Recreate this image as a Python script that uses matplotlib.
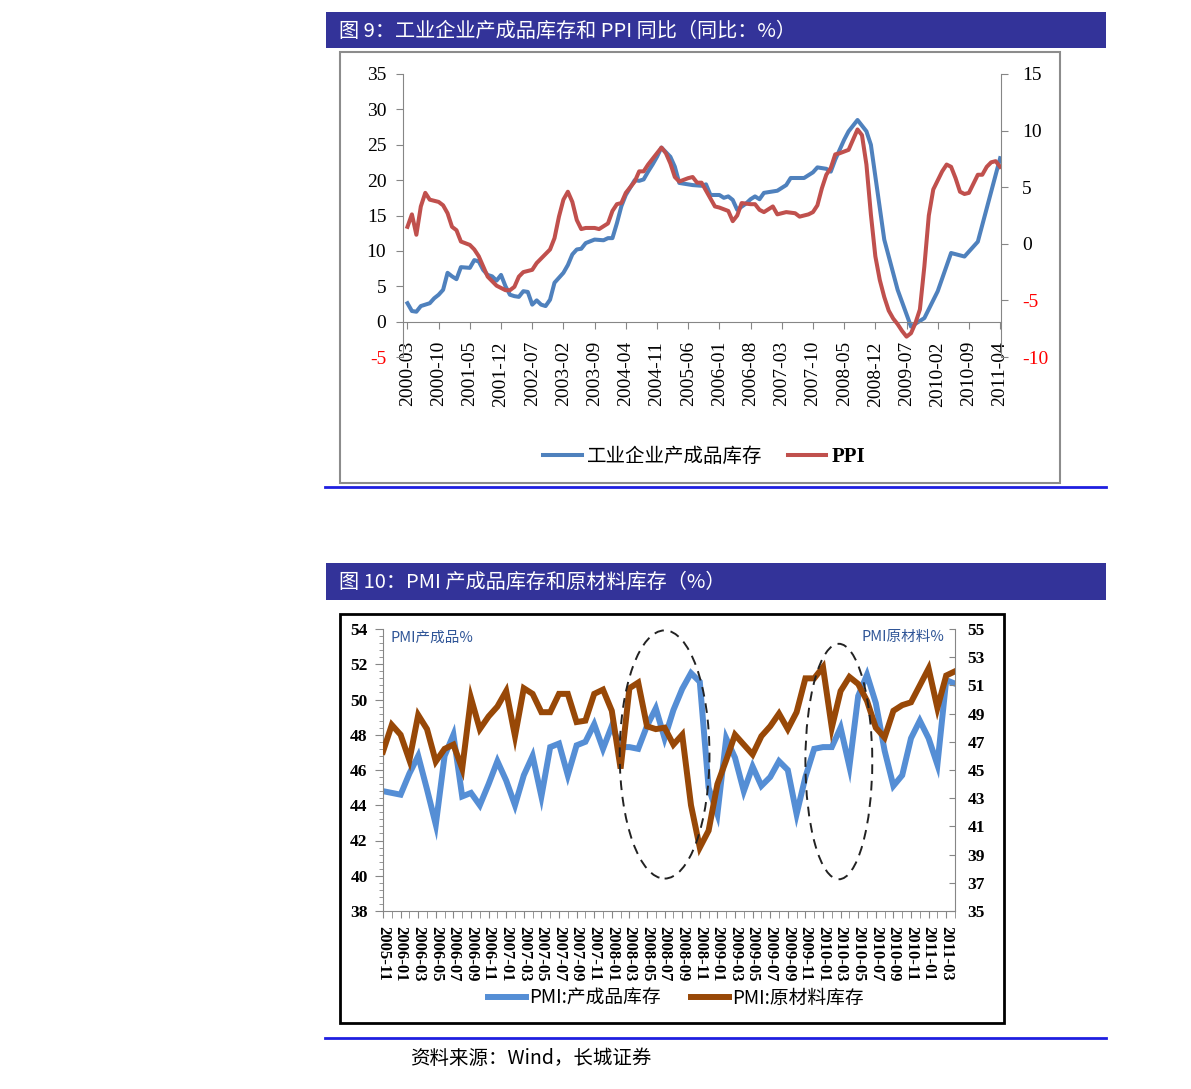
import numpy as np
import matplotlib
matplotlib.use('Agg')
import matplotlib.pyplot as plt
from matplotlib.patches import Rectangle, Ellipse
from matplotlib.lines import Line2D
from matplotlib.ticker import MultipleLocator

plt.rcParams['axes.unicode_minus'] = False

W, H = 1191, 1089
CJK = ['Noto Sans CJK SC', 'DejaVu Sans']
SERIF = 'Liberation Serif'
NAVY = '#333399'
RULE = '#1f1fe0'

# ── Figure 9: inventory of finished goods vs PPI (monthly, 2000-03 .. 2011-04) ──
c1_labels = ['2000-03', '2000-10', '2001-05', '2001-12', '2002-07', '2003-02',
             '2003-09', '2004-04', '2004-11', '2005-06', '2006-01', '2006-08',
             '2007-03', '2007-10', '2008-05', '2008-12', '2009-07', '2010-02',
             '2010-09', '2011-04']
c1_label_pos = [0, 7, 14, 21, 28, 35, 42, 49, 56, 63, 70, 77, 84, 91, 98,
                105, 112, 119, 126, 133]

inv_month = [0, 1, 2, 3, 5, 6, 7, 8, 9, 10, 11, 12, 14, 15, 16, 17, 18, 19, 20,
             21, 22, 23, 24, 25, 26, 27, 28, 29, 30, 31, 32, 33, 35, 36, 37, 38,
             39, 40, 42, 44, 45, 46, 47, 48, 49, 51, 52, 53, 54, 55, 56, 57, 59,
             60, 61, 62, 64, 66, 67, 68, 70, 71, 72, 73, 74, 76, 77, 78, 79, 80,
             82, 83, 85, 86, 89, 91, 92, 94, 95, 96, 98, 99, 101, 103, 104, 107,
             110, 113, 116, 119, 122, 125, 128, 133]
inv_val = [2.6, 1.5, 1.4, 2.2, 2.6, 3.3, 3.8, 4.5, 6.9, 6.4, 6.0, 7.7, 7.6, 8.7,
           8.5, 7.3, 6.6, 6.4, 5.8, 6.6, 5.0, 3.8, 3.6, 3.5, 4.3, 4.2, 2.4, 3.0,
           2.4, 2.2, 3.1, 5.5, 6.9, 8.0, 9.5, 10.2, 10.3, 11.1, 11.6, 11.5, 11.8,
           11.8, 13.9, 16.3, 17.9, 20.0, 19.9, 20.1, 21.2, 22.2, 23.3, 24.6, 23.3,
           21.9, 19.6, 19.5, 19.3, 19.2, 19.4, 17.9, 17.9, 17.5, 17.7, 17.2, 15.8,
           16.7, 17.3, 17.7, 17.3, 18.2, 18.4, 18.5, 19.3, 20.3, 20.3, 21.1, 21.8,
           21.6, 21.2, 22.9, 25.7, 26.9, 28.5, 26.9, 25.0, 11.6, 4.5, -0.7, 0.5,
           4.3, 9.7, 9.2, 11.3, 23.1]

ppi_month = [0, 1, 2, 3, 4, 5, 7, 8, 9, 10, 11, 12, 14, 15, 16, 18, 19, 20, 22,
             23, 24, 25, 26, 28, 29, 30, 32, 33, 34, 35, 36, 37, 38, 39, 40, 42,
             43, 45, 46, 47, 48, 49, 51, 52, 53, 54, 56, 57, 58, 59, 60, 61, 63,
             64, 65, 66, 68, 69, 70, 72, 73, 74, 75, 77, 78, 79, 80, 82, 83, 85,
             87, 88, 90, 91, 92, 93, 94, 95, 96, 97, 99, 100, 101, 102, 103, 104,
             105, 106, 107, 108, 109, 110, 111, 112, 113, 114, 115, 116, 117, 118,
             119, 120, 121, 122, 123, 124, 125, 126, 127, 128, 129, 130, 131, 132,
             133]
ppi_val = [1.5, 2.6, 0.8, 3.3, 4.5, 3.9, 3.7, 3.4, 2.7, 1.5, 1.2, 0.2, -0.1,
           -0.5, -1.1, -2.9, -3.3, -3.7, -4.1, -4.1, -3.8, -2.9, -2.5, -2.3, -1.7,
           -1.3, -0.5, 0.5, 2.4, 3.9, 4.6, 3.7, 2.1, 1.3, 1.4, 1.4, 1.3, 1.8, 2.9,
           3.5, 3.6, 4.5, 5.5, 6.4, 6.4, 7.0, 8.0, 8.5, 8.0, 7.1, 5.9, 5.5, 5.8,
           5.9, 5.4, 5.4, 4.0, 3.3, 3.2, 2.9, 2.0, 2.5, 3.6, 3.5, 3.5, 3.0, 2.8,
           3.3, 2.6, 2.8, 2.7, 2.4, 2.6, 2.8, 3.4, 4.9, 6.1, 6.7, 7.9, 8.0, 8.3,
           9.2, 10.1, 9.6, 7.0, 2.6, -1.1, -3.2, -4.7, -5.9, -6.6, -7.1, -7.7,
           -8.2, -7.9, -7.0, -5.8, -2.0, 2.5, 4.8, 5.6, 6.4, 7.0, 6.8, 5.8, 4.6,
           4.4, 4.5, 5.3, 6.1, 6.1, 6.8, 7.2, 7.3, 6.8]

# ── Figure 10: PMI inventories (monthly, 2005-11 .. 2011-04) ──
c2_labels = ['2005-11', '2006-01', '2006-03', '2006-05', '2006-07', '2006-09',
             '2006-11', '2007-01', '2007-03', '2007-05', '2007-07', '2007-09',
             '2007-11', '2008-01', '2008-03', '2008-05', '2008-07', '2008-09',
             '2008-11', '2009-01', '2009-03', '2009-05', '2009-07', '2009-09',
             '2009-11', '2010-01', '2010-03', '2010-05', '2010-07', '2010-09',
             '2010-11', '2011-01', '2011-03']
pmi_finished = [44.8, 44.7, 44.6, 45.8, 46.8, 44.9, 42.9, 46.8, 48.0, 44.5, 44.7,
                44.0, 45.2, 46.5, 45.4, 44.0, 45.7, 46.8, 44.5, 47.3, 47.5, 45.7,
                47.4, 47.6, 48.6, 47.2, 48.5, 47.3, 47.3, 47.2, 48.5, 49.5, 47.8,
                49.4, 50.6, 51.5, 51.0, 45.0, 43.5, 47.8, 46.7, 44.8, 46.2, 45.1,
                45.6, 46.5, 46.0, 43.5, 45.6, 47.2, 47.3, 47.3, 48.4, 46.2, 50.2,
                51.4, 49.8, 47.1, 45.1, 45.7, 47.8, 48.8, 47.8, 46.3, 51.1, 50.9]
pmi_raw = [46.3, 48.2, 47.5, 45.7, 48.9, 47.9, 45.6, 46.5, 46.8, 45.1, 50.1, 47.9,
           48.8, 49.5, 50.6, 47.4, 50.8, 50.4, 49.1, 49.1, 50.4, 50.4, 48.4, 48.5,
           50.4, 50.7, 49.2, 45.1, 50.8, 51.2, 48.1, 47.9, 48.0, 46.8, 47.5, 42.5,
           39.5, 40.7, 44.0, 45.7, 47.5, 46.8, 46.1, 47.4, 48.1, 49.0, 47.9, 49.1,
           51.5, 51.5, 52.3, 48.0, 50.6, 51.6, 51.1, 49.9, 48.0, 47.3, 49.2, 49.6,
           49.8, 51.0, 52.2, 49.4, 51.7, 52.0]


def fig_rect(x0, y0, x1, y1):
    """pixel box (top-left origin) -> figure fraction rect"""
    return [x0 / W, 1 - y1 / H, (x1 - x0) / W, (y1 - y0) / H]


def add_box(fig, x0, y0, x1, y1, **kw):
    r = Rectangle((x0 / W, 1 - y1 / H), (x1 - x0) / W, (y1 - y0) / H,
                  transform=fig.transFigure, **kw)
    fig.add_artist(r)


def hline(fig, x0, x1, y, color, lw):
    fig.add_artist(Line2D([x0 / W, x1 / W], [1 - y / H, 1 - y / H],
                          transform=fig.transFigure, color=color, lw=lw))


fig = plt.figure(figsize=(W / 100, H / 100), dpi=100)
fig.patch.set_facecolor('white')

# ── page furniture ────────────────────────────────────────────────────────────
add_box(fig, 326, 12, 1106, 48, facecolor=NAVY, edgecolor='none')
fig.text(339 / W, 1 - 31 / H, '图 9：工业企业产成品库存和 PPI 同比（同比：%）',
         color='white', fontsize=14.5, family=CJK, va='center', ha='left')
add_box(fig, 340, 52, 1060, 483, facecolor='none', edgecolor='#8c8c8c', lw=1.5)
hline(fig, 325, 1106, 487, RULE, 2.0)

add_box(fig, 326, 563, 1106, 600, facecolor=NAVY, edgecolor='none')
fig.text(339 / W, 1 - 582 / H, '图 10：PMI 产成品库存和原材料库存（%）',
         color='white', fontsize=14.5, family=CJK, va='center', ha='left')
add_box(fig, 340, 614, 1004, 1023, facecolor='none', edgecolor='black', lw=2.0)
hline(fig, 325, 1106, 1038, RULE, 2.0)
fig.text(410 / W, 1 - 1058 / H, '资料来源：Wind，长城证券', color='black',
         fontsize=14, family=CJK, va='center', ha='left')

# ── Figure 9 ─────────────────────────────────────────────────────────────────
SPINE = '#868686'
ax1 = fig.add_axes(fig_rect(403, 74, 1001, 357))
ax1.plot(inv_month, inv_val, color='#4F81BD', lw=2.9, solid_joinstyle='round')
ax1.set_xlim(-1, 133.2)
ax1.set_ylim(-5, 35)
ax1.set_yticks(np.arange(-5, 36, 5))
ax1.spines['bottom'].set_position(('data', 0))
for s in ['top', 'right']:
    ax1.spines[s].set_visible(False)
for s in ['left', 'bottom']:
    ax1.spines[s].set_color(SPINE)
ax1.set_xticks(c1_label_pos)
ax1.set_xticklabels(c1_labels, rotation=90, fontsize=14, family=SERIF)
ax1.tick_params(axis='x', length=5, color=SPINE, pad=9)
ax1.tick_params(axis='y', length=5, color=SPINE, pad=7, labelsize=14)
for t, v in zip(ax1.get_yticklabels(), np.arange(-5, 36, 5)):
    t.set_family(SERIF)
    if v < 0:
        t.set_color('red')

ax1b = ax1.twinx()
ax1b.plot(ppi_month, ppi_val, color='#C0504D', lw=2.9, solid_joinstyle='round')
ax1b.set_ylim(-10, 15)
ax1b.set_yticks(np.arange(-10, 16, 5))
for s in ['top', 'left', 'bottom']:
    ax1b.spines[s].set_visible(False)
ax1b.spines['right'].set_color(SPINE)
ax1b.tick_params(axis='y', length=5, color=SPINE, pad=10, labelsize=14)
for t, v in zip(ax1b.get_yticklabels(), np.arange(-10, 16, 5)):
    t.set_family(SERIF)
    if v < 0:
        t.set_color('red')

h1 = [Line2D([], [], color='#4F81BD', lw=2.9), Line2D([], [], color='#C0504D', lw=2.9)]
leg1 = fig.legend(h1, ['工业企业产成品库存', 'PPI'], loc='center',
                  bbox_to_anchor=(704 / W, 1 - 456 / H), ncol=2, frameon=False,
                  handlelength=2.0, handletextpad=0.25, columnspacing=1.3,
                  prop={'family': CJK, 'size': 14})
leg1.get_texts()[1].set_fontproperties({'family': SERIF, 'size': 15, 'weight': 'bold'})

# ── Figure 10 ────────────────────────────────────────────────────────────────
ax2 = fig.add_axes(fig_rect(383, 629, 955, 911))
months2 = np.arange(len(pmi_finished))
ax2.plot(months2, pmi_finished, color='#558ED5', lw=4.3, solid_joinstyle='miter')
ax2.set_xlim(0, 65)
ax2.set_ylim(38, 54)
ax2.set_yticks(np.arange(38, 55, 2))
ax2.yaxis.set_minor_locator(MultipleLocator(0.4))
ax2.set_xticks(np.arange(0, 65, 2))
ax2.set_xticklabels(c2_labels, rotation=-90, fontsize=12, family=SERIF,
                    fontweight='bold')
ax2.xaxis.set_minor_locator(MultipleLocator(1))
ax2.tick_params(axis='x', which='both', length=5, color=SPINE, pad=6)
ax2.tick_params(axis='y', which='major', length=6, color=SPINE, pad=5, labelsize=12.5)
ax2.tick_params(axis='y', which='minor', length=3, color=SPINE)
for t in ax2.get_yticklabels():
    t.set_family(SERIF)
    t.set_fontweight('bold')
for s in ['top', 'right']:
    ax2.spines[s].set_visible(False)
for s in ['left', 'bottom']:
    ax2.spines[s].set_color(SPINE)

ax2b = ax2.twinx()
ax2b.plot(months2, pmi_raw, color='#984807', lw=4.3, solid_joinstyle='miter')
ax2b.set_ylim(35, 55)
ax2b.set_yticks(np.arange(35, 56, 2))
for s in ['top', 'left', 'bottom']:
    ax2b.spines[s].set_visible(False)
ax2b.spines['right'].set_color(SPINE)
ax2b.tick_params(axis='y', direction='in', length=4, color=SPINE, pad=9,
                 labelsize=12.5)
for t in ax2b.get_yticklabels():
    t.set_family(SERIF)
    t.set_fontweight('bold')

# dashed highlight ellipses (right-axis units)
for cx, cy, ew, eh in [(32.0, 46.1, 10.2, 17.6), (51.8, 45.6, 7.6, 16.7)]:
    ax2b.add_patch(Ellipse((cx, cy), ew, eh, facecolor='none', edgecolor='#222222',
                           lw=1.4, ls=(0, (5, 3.5)), clip_on=False, zorder=5))

ax2.text(391 / W, 1 - 638 / H, 'PMI产成品%', transform=fig.transFigure,
         color='#2F5597', fontsize=10.5, family=CJK, va='center', ha='left')
ax2b.text(944 / W, 1 - 637 / H, 'PMI原材料%', transform=fig.transFigure,
          color='#2F5597', fontsize=10.5, family=CJK, va='center', ha='right')

h2 = [Line2D([], [], color='#558ED5', lw=4.3), Line2D([], [], color='#984807', lw=4.3)]
fig.legend(h2, ['PMI:产成品库存', 'PMI:原材料库存'], loc='center',
           bbox_to_anchor=(676 / W, 1 - 998 / H), ncol=2, frameon=False,
           handlelength=2.0, handletextpad=0.2, columnspacing=1.6,
           prop={'family': CJK, 'size': 13.5})

fig.savefig('out.png', dpi=100, facecolor='white')
